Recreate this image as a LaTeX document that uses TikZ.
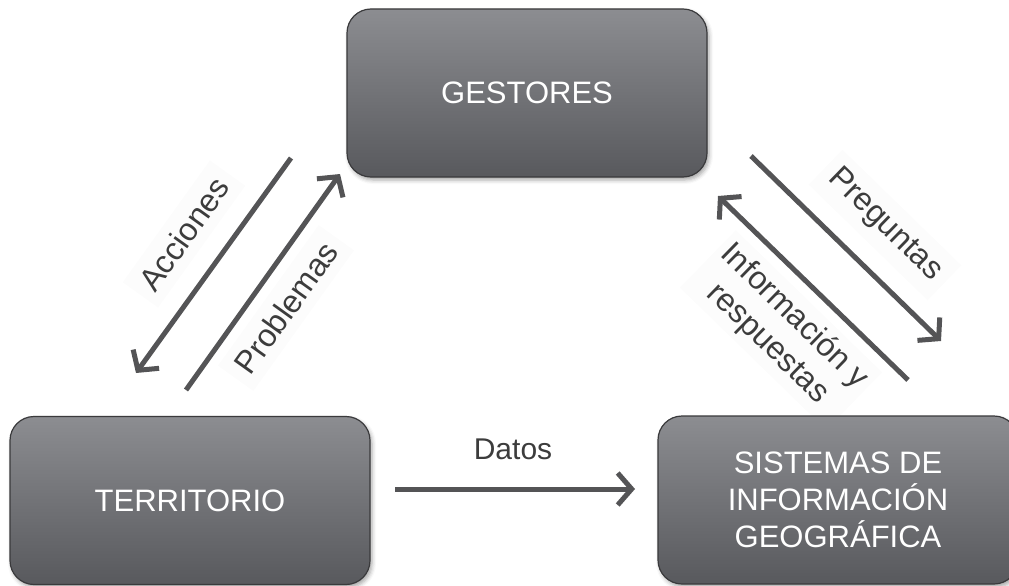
\documentclass[tikz,border=0pt]{standalone}
\usepackage{fontspec}
\setmainfont{Liberation Sans}
\usetikzlibrary{arrows.meta,shadows.blur}

\definecolor{boxtop}{RGB}{140,141,145}
\definecolor{boxbot}{RGB}{88,89,93}
\definecolor{boxedge}{RGB}{58,58,60}
\definecolor{flow}{RGB}{84,84,86}
\definecolor{labeltext}{RGB}{60,60,60}

\tikzset{
  actor/.style={draw=boxedge, line width=1.2pt, rounded corners=24pt,
    top color=boxtop, bottom color=boxbot,
    minimum width=360pt, minimum height=168pt,
    text=white, font=\fontsize{31}{37}\selectfont, align=center,
    blur shadow={shadow xshift=2pt, shadow yshift=-3pt,
      shadow blur radius=4pt, shadow opacity=35}},
  flowline/.style={draw=flow, line width=5pt,
    -{Straight Barb[length=14pt,width=32pt,line width=5pt]}},
  tag/.style={text=labeltext, font=\fontsize{32}{38}\selectfont,
    align=center, fill=black!1.2, inner sep=10pt}
}

\begin{document}
\begin{tikzpicture}[x=1pt,y=-1pt]
  \useasboundingbox (0,0) rectangle (1009,586);

  % labels of the flows (behind the boxes)
  \node[tag, rotate=54.4] (lacc) at (184,234) {Acciones};
  \node[tag, rotate=54.4] (lpro) at (286,308) {Problemas};
  \node[tag, rotate=-44.2] (lpre) at (885,225) {Preguntas};
  \node[tag, rotate=-44.2, inner sep=6pt] (linf) at (781,330) {Información y\\respuestas};
  \node[text=labeltext, font=\fontsize{30}{36}\selectfont] (ldat) at (513,449) {Datos};

  % the three actors
  \node[actor] (gest) at (527,93) {GESTORES};
  \node[actor] (terr) at (190,500.5) {TERRITORIO};
  \node[actor] (sig)  at (838,500) {SISTEMAS DE\\INFORMACIÓN\\GEOGRÁFICA};

  % end points of the flows
  \coordinate (acc1) at (291,158);
  \coordinate (acc2) at (136,373);
  \coordinate (pro1) at (186,390);
  \coordinate (pro2) at (340,174);
  \coordinate (pre1) at (751,156);
  \coordinate (pre2) at (941,341);
  \coordinate (inf1) at (908,380);
  \coordinate (inf2) at (718,196);
  \coordinate (dat1) at (395,489);
  \coordinate (dat2) at (635,489);

  % flows
  \draw[flowline] (acc1) -- (acc2);
  \draw[flowline] (pro1) -- (pro2);
  \draw[flowline] (pre1) -- (pre2);
  \draw[flowline] (inf1) -- (inf2);
  \draw[flowline] (dat1) -- (dat2);
\end{tikzpicture}
\end{document}
